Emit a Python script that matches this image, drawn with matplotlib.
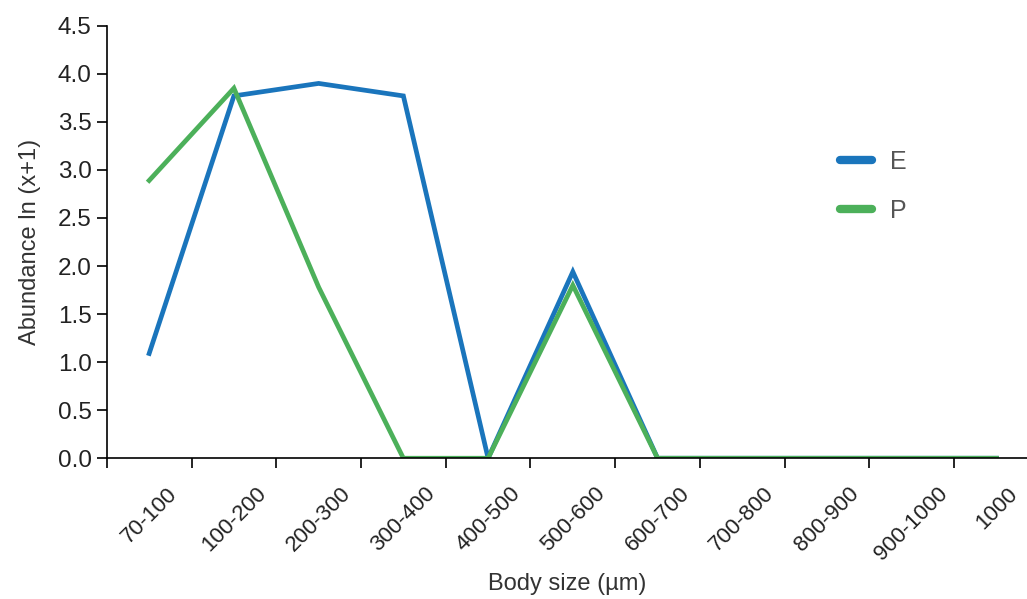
import matplotlib.pyplot as plt
from matplotlib.lines import Line2D

plt.rcParams['font.family'] = ['Liberation Sans', 'DejaVu Sans']

# body size classes and abundance ln(x+1)
sizes = ['70-100', '100-200', '200-300', '300-400', '400-500', '500-600',
         '600-700', '700-800', '800-900', '900-1000', '1000']
abund_e = [1.09, 3.77, 3.90, 3.77, 0.0, 1.94, 0.0, 0.0, 0.0, 0.0, 0.0]
abund_p = [2.89, 3.85, 1.78, 0.0, 0.0, 1.80, 0.0, 0.0, 0.0, 0.0, 0.0]

blue = '#1a75bc'
green = '#4cb05a'

fig = plt.figure(figsize=(10.27, 5.99), dpi=100)
ax = fig.add_axes([0.104, 0.235, 0.896, 0.722])

x = [i + 0.5 for i in range(len(sizes))]
ax.plot(x, abund_e, color=blue, lw=3.4, solid_joinstyle='miter')
ax.plot(x, abund_p, color=green, lw=3.4, solid_joinstyle='miter')

ax.set_xlim(0, 10.86)
ax.set_ylim(0, 4.5)
ax.set_yticks([i * 0.5 for i in range(10)])
ax.set_yticklabels([f'{i * 0.5:.1f}' for i in range(10)], fontsize=17.5, color='#222222')

# boundaries as major ticks, labels at class centres
ax.set_xticks(range(len(sizes)))
ax.set_xticklabels([])
ax.set_xticks(x, minor=True)
ax.set_xticklabels(sizes, minor=True, rotation=45, ha='center', fontsize=16,
                   color='#222222')
ax.tick_params(axis='x', which='minor', length=0, pad=18)
ax.tick_params(axis='x', which='major', length=7, width=1.2)
ax.tick_params(axis='y', length=7, width=1.2, pad=4)

for s in ['top', 'right']:
    ax.spines[s].set_visible(False)
for s in ['left', 'bottom']:
    ax.spines[s].set_linewidth(1.2)

ax.set_ylabel('Abundance ln (x+1)', fontsize=17, color='#333333', labelpad=12)
ax.set_xlabel('Body size (\u00b5m)', fontsize=17, color='#333333', labelpad=6)

handles = [Line2D([], [], color=blue, lw=6, solid_capstyle='round'),
           Line2D([], [], color=green, lw=6, solid_capstyle='round')]
leg = fig.legend(handles, ['E', 'P'], loc='upper left',
                 bbox_to_anchor=(0.796, 0.787), frameon=False, fontsize=18,
                 handlelength=1.3, handletextpad=0.7, labelspacing=1.0,
                 labelcolor='#555555')

fig.savefig('out.png', dpi=100)
